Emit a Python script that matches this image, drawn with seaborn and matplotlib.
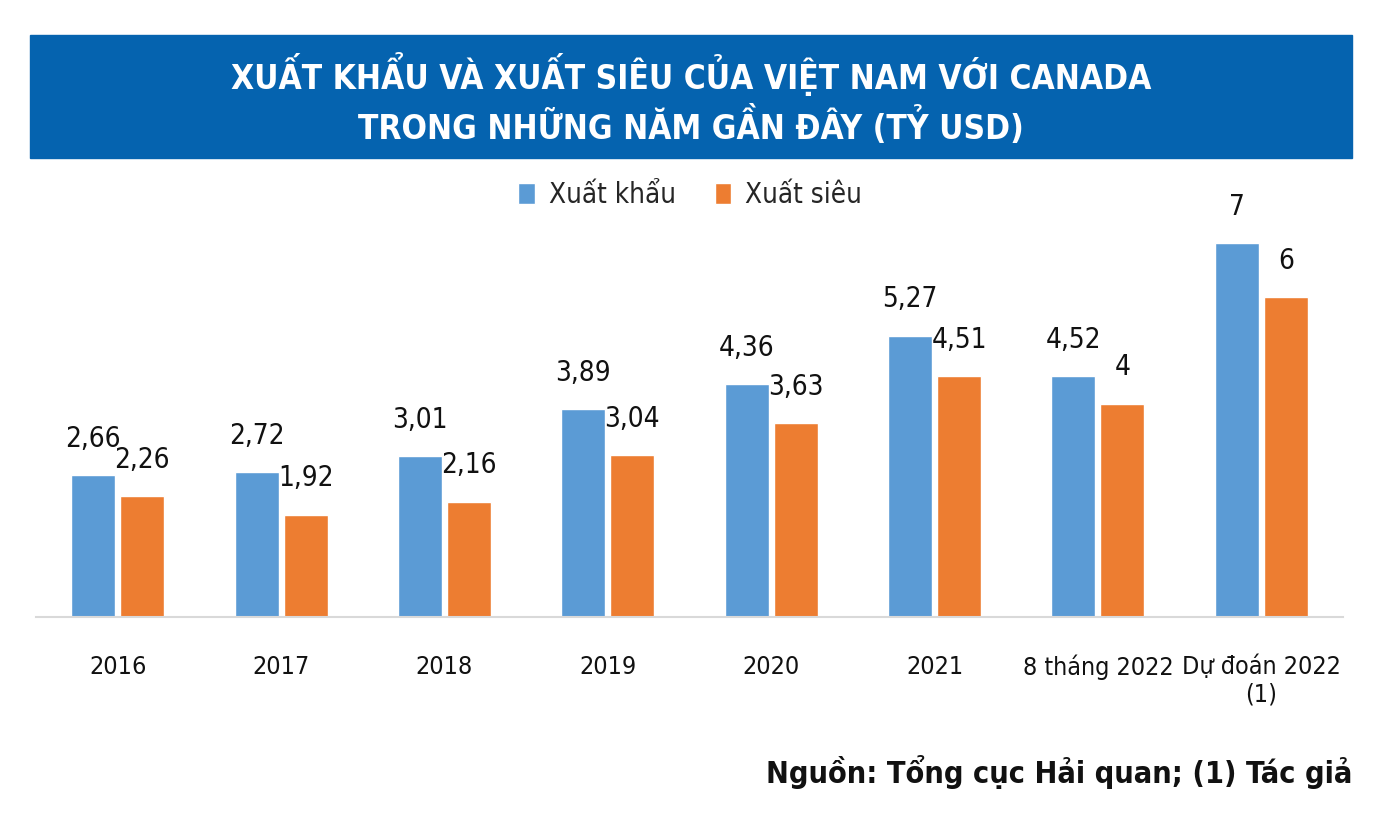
import pandas as pd
import seaborn as sns
import matplotlib.pyplot as plt
from matplotlib.patches import Rectangle

# values (ty USD)
periods = ["2016", "2017", "2018", "2019", "2020", "2021", "8 tháng 2022", "Dự đoán 2022\n(1)"]
xuat_khau = [2.66, 2.72, 3.01, 3.89, 4.36, 5.27, 4.52, 7]
xuat_sieu = [2.26, 1.92, 2.16, 3.04, 3.63, 4.51, 4, 6]
series_names = ["Xuất khẩu", "Xuất siêu"]
colors = ["#5B9BD5", "#ED7D31"]

df = pd.DataFrame({
    "period": periods * 2,
    "value": xuat_khau + xuat_sieu,
    "series": [series_names[0]] * len(periods) + [series_names[1]] * len(periods),
})

sns.set_theme(style="white")
plt.rcParams["font.family"] = ["DejaVu Sans"]
plt.rcParams["font.stretch"] = "condensed"

W, H = 1396, 826
fig = plt.figure(figsize=(W / 100, H / 100), dpi=100)
ax = fig.add_axes([36 / W, (H - 617) / H, 1307 / W, 427 / H])

sns.barplot(data=df, x="period", y="value", hue="series", order=periods,
            hue_order=series_names, palette=colors, width=0.6, gap=0.1,
            saturation=1, ax=ax, legend=True)

ax.set_ylim(0, 8)
ax.set_xlim(-0.5, len(periods) - 0.5)
ax.set_xlabel("")
ax.set_ylabel("")
ax.set_yticks([])
for side in ["top", "right", "left"]:
    ax.spines[side].set_visible(False)
ax.spines["bottom"].set_color("#D9D9D9")
ax.spines["bottom"].set_linewidth(1.5)
ax.tick_params(axis="x", length=0, pad=27, labelsize=18, labelcolor="#111111")


def fmt(v):
    if float(v).is_integer():
        return str(int(v))
    return f"{v:.2f}".replace(".", ",")


for cont in ax.containers:
    ax.bar_label(cont, labels=[fmt(b.get_height()) for b in cont], padding=16,
                 fontsize=20, color="#111111")

handles, labels = ax.get_legend_handles_labels()
ax.legend_.remove()
fig.legend(handles, labels, loc="center", bbox_to_anchor=(690 / W, 1 - 195 / H),
           ncol=2, frameon=False, fontsize=20, handlelength=0.6, handleheight=0.8,
           handletextpad=0.5, columnspacing=1.4)

# title banner
fig.patches.append(Rectangle((30 / W, 1 - 158 / H), 1322 / W, 123 / H,
                             transform=fig.transFigure, color="#0563AF", zorder=0))
fig.text(691 / W, 1 - 99 / H, "XUẤT KHẨU VÀ XUẤT SIÊU CỦA VIỆT NAM VỚI CANADA\nTRONG NHỮNG NĂM GẦN ĐÂY (TỶ USD)",
         ha="center", va="center", color="white", fontsize=24, fontweight="bold",
         linespacing=1.3)

fig.text(1352 / W, 1 - 772 / H, "Nguồn: Tổng cục Hải quan; (1) Tác giả",
         ha="right", va="center", fontsize=22, fontweight="bold", color="#111111")

fig.savefig("out.png", dpi=100)
